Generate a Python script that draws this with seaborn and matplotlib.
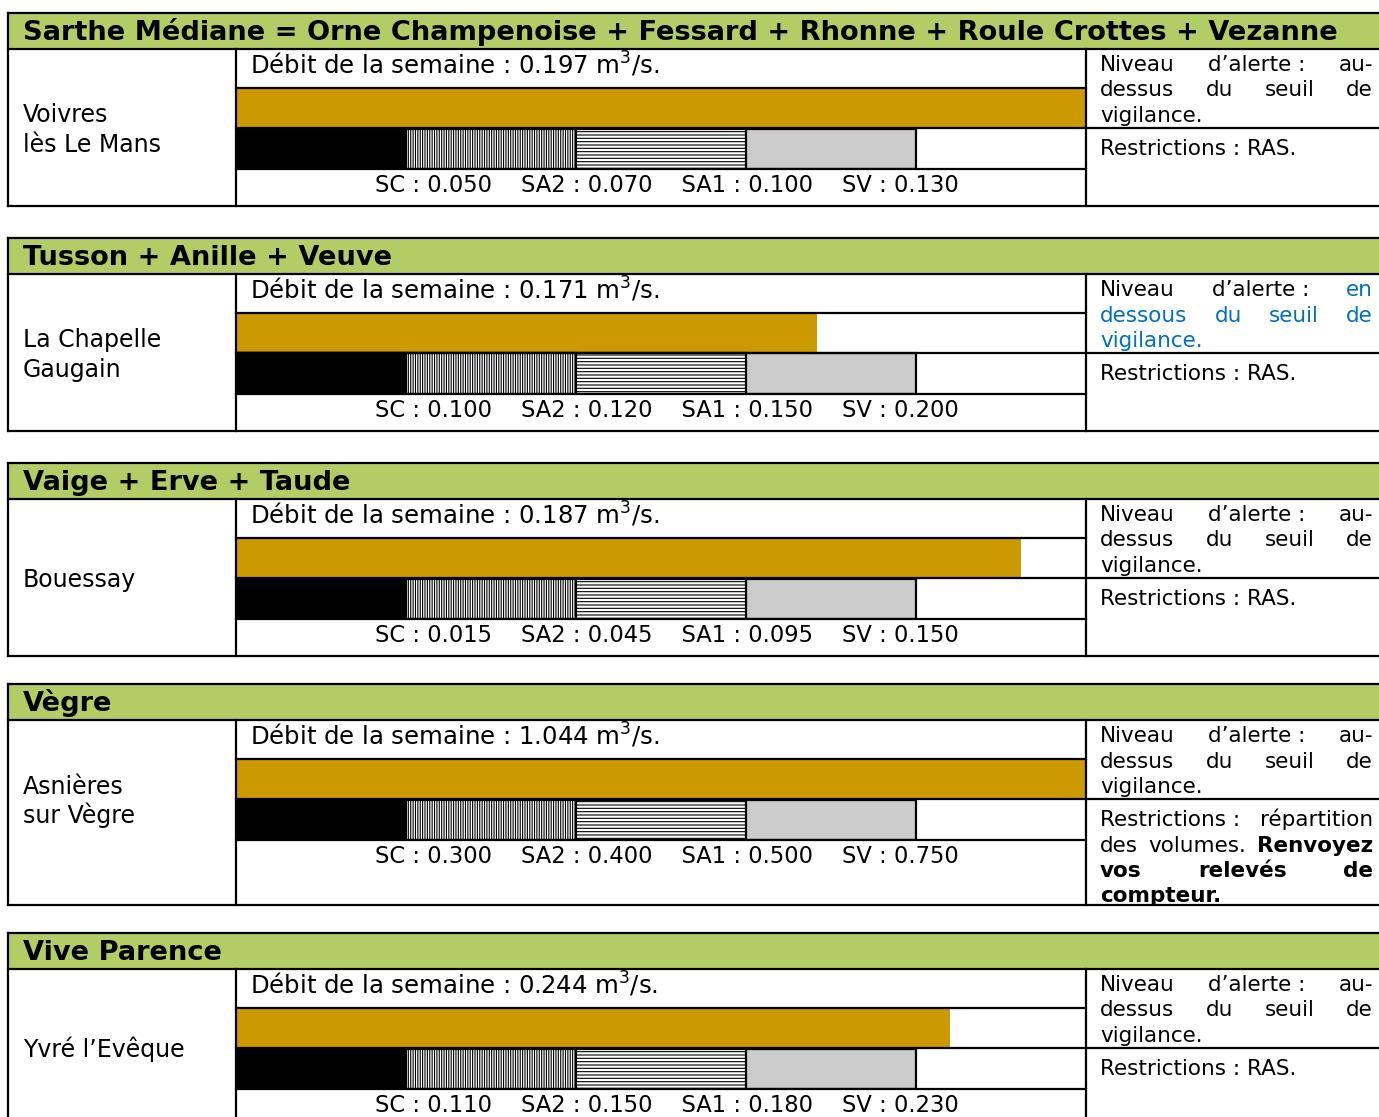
import numpy as np
import pandas as pd
import matplotlib
matplotlib.use("Agg")
import matplotlib.pyplot as plt
from matplotlib.patches import Rectangle
import seaborn as sns

# ------------------------------------------------------------------ data
titres = [
    "Sarthe Médiane = Orne Champenoise + Fessard + Rhonne + Roule Crottes + Vezanne",
    "Tusson + Anille + Veuve",
    "Vaige + Erve + Taude",
    "Vègre",
    "Vive Parence",
]
stations = [["Voivres", "lès Le Mans"], ["La Chapelle", "Gaugain"], ["Bouessay"],
            ["Asnières", "sur Vègre"], ["Yvré l’Evêque"]]
debits = [0.197, 0.171, 0.187, 1.044, 0.244]
seuil_sc = [0.050, 0.100, 0.015, 0.300, 0.110]
seuil_sa2 = [0.070, 0.120, 0.045, 0.400, 0.150]
seuil_sa1 = [0.100, 0.150, 0.095, 0.500, 0.180]
seuil_sv = [0.130, 0.200, 0.150, 0.750, 0.230]
echelle_max = [0.19, 0.27, 0.21, 1.00, 0.30]   # end of the gauge (estimated)
niveaux = ["au", "en", "au", "au", "au"]        # au-dessus / en dessous
restrictions_ras = [True, True, True, False, True]

# ------------------------------------------------------------------ style
sns.set_style("white")
plt.rcParams["font.family"] = ["DejaVu Sans"]
plt.rcParams["text.color"] = "black"
plt.rcParams["hatch.linewidth"] = 0.8
plt.rcParams["hatch.color"] = "black"

GREEN = "#B3CD66"
GOLD = "#CC9900"
GREY = "#CCCCCC"
BLUE = "#0070C0"
LW = 1.6

W, H = 1379, 1117
fig = plt.figure(figsize=(W / 100, H / 100), dpi=100)
fig.patch.set_facecolor("white")

header_tops = [13, 238, 463, 684, 933]
body_heights = [157, 157, 157, 185, 157]
HEADER_H = 36
X_LEFT, X_MID, X_RIGHT, X_END = 8, 236, 1086, 1385

# ------------------------------------------------------------------ bars (seaborn)
rows = ["Débit", "Seuils"]
for i in range(5):
    bt = header_tops[i] + HEADER_H
    y0, y1 = bt + 39, bt + 120
    ax = fig.add_axes([X_MID / W, 1 - y1 / H, (X_RIGHT - X_MID) / W, (y1 - y0) / H])
    pts = [0, seuil_sc[i], seuil_sa2[i], seuil_sa1[i], seuil_sv[i], echelle_max[i]]

    def jauge(v, pts=pts):
        return float(np.interp(v, pts, np.arange(len(pts))))

    df_deb = pd.DataFrame({"ligne": ["Débit"], "jauge": [jauge(debits[i])]})
    sns.barplot(data=df_deb, x="jauge", y="ligne", order=rows, orient="h", width=1,
                color=GOLD, saturation=1, linewidth=0, errorbar=None, ax=ax)
    seg_vals = [seuil_sv[i], seuil_sa1[i], seuil_sa2[i], seuil_sc[i]]
    styles = [(GREY, None), ("white", "-" * 5), ("white", "|" * 7), ("black", None)]
    for v, (fc, hatch) in zip(seg_vals, styles):
        df = pd.DataFrame({"ligne": ["Seuils"], "jauge": [jauge(v)]})
        sns.barplot(data=df, x="jauge", y="ligne", order=rows, orient="h", width=1,
                    color=fc, saturation=1, edgecolor="black", linewidth=LW,
                    hatch=hatch, errorbar=None, ax=ax)
    ax.set_xlim(0, 5)
    ax.set_ylim(1.5, -0.5)
    ax.axis("off")

# ------------------------------------------------------------------ table overlay
ov = fig.add_axes([0, 0, 1, 1], zorder=10)
ov.set_xlim(0, W)
ov.set_ylim(H, 0)
ov.axis("off")
ov.patch.set_alpha(0)


def hline(y, x0, x1):
    ov.plot([x0, x1], [y, y], color="black", lw=LW, solid_capstyle="projecting")


def vline(x, y0, y1):
    ov.plot([x, x], [y0, y1], color="black", lw=LW, solid_capstyle="projecting")


renderer = fig.canvas.get_renderer()
JX0, JX1 = 1100, 1373
RFS = 15.5


def paragraph(lines, y_base, spacing=25.5):
    for k, toks in enumerate(lines):
        y = y_base + k * spacing
        objs = []
        for txt, bold, col in toks:
            t = ov.text(0, y, txt, fontsize=RFS, fontweight="bold" if bold else "normal",
                        color=col, va="baseline", ha="left")
            objs.append(t)
        widths = [t.get_window_extent(renderer=renderer).width for t in objs]
        last = k == len(lines) - 1
        if last or len(objs) == 1:
            sp = 6.0
        else:
            sp = (JX1 - JX0 - sum(widths)) / (len(objs) - 1)
        x = JX0
        for t, w in zip(objs, widths):
            t.set_x(x)
            x += w + sp


for i in range(5):
    ht = header_tops[i]
    bt = ht + HEADER_H
    bb = bt + body_heights[i]
    ov.add_patch(Rectangle((X_LEFT, ht), X_END - X_LEFT, HEADER_H, facecolor=GREEN,
                           edgecolor="none", zorder=0))
    hline(ht, X_LEFT, X_END)
    hline(bt, X_LEFT, X_END)
    hline(bb, X_LEFT, X_END)
    vline(X_LEFT, ht, bb)
    vline(X_MID, bt, bb)
    vline(X_RIGHT, bt, bb)
    hline(bt + 39, X_MID, X_RIGHT)
    hline(bt + 79, X_MID, X_END)
    hline(bt + 120, X_MID, X_RIGHT)

    ov.text(23, ht + 27, titres[i], fontsize=19.6, fontweight="bold", va="baseline")

    ov.text(250, bt + 25, f"Débit de la semaine : {debits[i]:.3f} m$^{{3}}$/s.",
            fontsize=17.6, va="baseline")

    cy = bt + 78.5 + 9.5
    st = stations[i]
    for k, s in enumerate(st):
        ov.text(23, cy + (k - (len(st) - 1) / 2) * 29, s, fontsize=17, va="baseline")

    lab = "    ".join([f"SC : {seuil_sc[i]:.3f}", f"SA2 : {seuil_sa2[i]:.3f}",
                       f"SA1 : {seuil_sa1[i]:.3f}", f"SV : {seuil_sv[i]:.3f}"])
    ov.text(667, bt + 120 + 23, lab, fontsize=16.3, va="baseline", ha="center")

    if niveaux[i] == "au":
        c = "black"
        lines = [[("Niveau", False, "black"), ("d’alerte :", False, "black"), ("au-", False, c)],
                 [("dessus", False, c), ("du", False, c), ("seuil", False, c), ("de", False, c)],
                 [("vigilance.", False, c)]]
    else:
        c = BLUE
        lines = [[("Niveau", False, "black"), ("d’alerte :", False, "black"), ("en", False, c)],
                 [("dessous", False, c), ("du", False, c), ("seuil", False, c), ("de", False, c)],
                 [("vigilance.", False, c)]]
    paragraph(lines, bt + 22)

    if restrictions_ras[i]:
        rl = [[("Restrictions : RAS.", False, "black")]]
    else:
        rl = [[("Restrictions :", False, "black"), ("répartition", False, "black")],
              [("des", False, "black"), ("volumes.", False, "black"), ("Renvoyez", True, "black")],
              [("vos", True, "black"), ("relevés", True, "black"), ("de", True, "black")],
              [("compteur.", True, "black")]]
    paragraph(rl, bt + 79 + 27)

fig.savefig("out.png", dpi=100, facecolor="white")
